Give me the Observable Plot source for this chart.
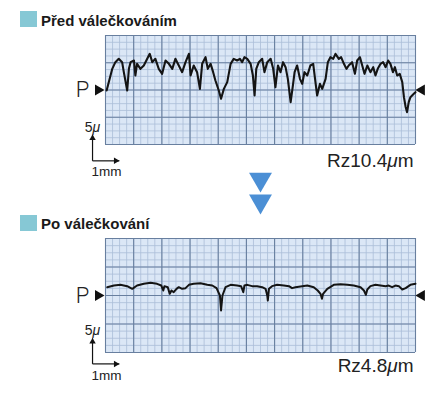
<!DOCTYPE html>
<html><head><meta charset="utf-8">
<script src="https://cdn.jsdelivr.net/npm/d3@7"></script>
<script src="https://cdn.jsdelivr.net/npm/@observablehq/plot@0.6"></script>
<style>
body{margin:0;background:#fff;}
#root{position:relative;width:426px;height:395px;overflow:hidden;font-family:"Liberation Sans",Arial,sans-serif;}
.title{position:absolute;left:41px;font-weight:bold;font-size:15px;line-height:15px;color:#1a1a1a;white-space:nowrap;}
.sq{position:absolute;left:20px;width:17px;height:16px;background:#86c8d5;}
.panel{position:absolute;left:0;}
</style></head><body><div id="root"></div>
<script>
// ---- text ----
const titles = ["Před válečkováním", "Po válečkování"];
const rzLabels = ["Rz10.4μm", "Rz4.8μm"];
const pLabel = "P";
const scaleLabels = ["5μ", "1mm"];

// ---- grid (mm horizontally, μm vertically) ----
const majorX = [0, 1, 2, 3, 4, 5, 6, 7, 8, 9, 10, 11];
const majorY = [-10, -5, 0, 5, 10];
const minorStepX = 0.25, minorStepY = 1.25;

// ---- profile before rolling (x mm, y μm) ----
const beforeX = [0.04,0.24,0.35,0.47,0.59,0.65,0.77,0.83,0.89,1.01,1.06,1.12,1.24,1.36,1.48,1.57,1.66,1.77,1.89,2.01,2.13,2.25,2.37,2.48,2.60,2.72,2.84,2.96,3.02,3.13,3.25,3.35,3.43,3.55,3.63,3.73,3.82,3.90,4.02,4.10,4.20,4.32,4.44,4.55,4.67,4.77,4.85,4.93,5.03,5.15,5.23,5.29,5.35,5.44,5.56,5.64,5.74,5.86,5.95,6.03,6.12,6.21,6.30,6.39,6.47,6.57,6.65,6.71,6.80,6.90,6.98,7.06,7.16,7.27,7.37,7.45,7.51,7.61,7.69,7.81,7.89,7.98,8.08,8.16,8.28,8.36,8.46,8.55,8.63,8.75,8.85,8.93,9.03,9.11,9.19,9.29,9.40,9.50,9.58,9.66,9.76,9.85,9.94,10.03,10.11,10.20,10.27,10.35,10.44,10.53,10.59,10.65,10.70,10.76,10.82,10.94,11.00];
const beforeY = [-0.09,3.88,5.11,5.72,5.11,3.27,-0.09,3.88,5.11,5.41,2.66,4.80,3.88,4.50,5.72,6.64,5.11,5.72,3.88,2.97,5.41,4.80,3.88,5.72,4.50,3.27,5.11,6.64,2.66,4.50,3.27,0.21,4.80,6.02,3.88,4.80,3.27,1.74,-0.09,-1.62,0.21,1.44,4.80,5.72,5.41,5.72,5.11,6.02,5.72,4.80,2.66,-1.01,3.88,5.11,5.72,3.27,5.11,5.72,3.88,0.52,4.50,3.27,5.11,4.19,2.05,-2.23,0.83,3.27,4.50,2.05,1.13,3.27,2.66,4.50,4.80,1.44,-1.01,1.13,0.21,2.05,5.11,6.02,5.72,6.64,5.72,6.02,4.80,3.88,4.50,5.11,2.97,5.41,6.02,4.50,2.97,4.50,3.27,4.19,2.66,3.88,4.80,5.11,4.19,5.41,4.80,3.27,4.19,2.66,2.97,1.44,-1.31,-3.12,-4.07,-2.23,-1.31,-0.70,-0.40];

// ---- profile after rolling (x mm, y μm) ----
const afterX = [0.06,0.30,0.53,0.77,0.95,1.12,1.36,1.60,1.83,1.98,2.05,2.09,2.21,2.28,2.34,2.42,2.52,2.60,2.72,2.84,2.96,3.13,3.37,3.61,3.79,3.94,4.06,4.10,4.15,4.26,4.44,4.67,4.81,4.89,4.93,5.03,5.20,5.38,5.56,5.68,5.74,5.76,5.80,5.91,6.09,6.33,6.51,6.62,6.74,6.92,7.16,7.39,7.53,7.63,7.68,7.72,7.87,8.10,8.34,8.58,8.81,9.05,9.17,9.24,9.29,9.40,9.58,9.76,9.94,10.05,10.17,10.29,10.41,10.53,10.65,10.82,11.00];
const afterY = [1.46,1.75,1.87,1.64,1.17,1.75,2.05,2.22,2.05,1.75,0.88,1.64,1.46,0.29,0.88,0.58,1.17,1.46,1.17,1.29,1.87,2.05,2.16,1.87,1.75,1.29,0.00,-2.63,0.00,1.46,1.87,1.75,1.64,0.58,1.75,1.87,1.64,1.64,1.46,1.17,0.00,-0.88,1.17,1.64,1.87,1.75,1.64,1.29,1.46,1.58,1.75,1.46,0.88,0.29,-0.58,0.29,1.17,1.87,1.99,1.87,1.75,1.46,0.88,0.12,1.05,1.64,1.87,1.75,1.64,1.75,1.46,1.75,1.64,1.05,1.29,1.87,2.05];

const root = document.getElementById("root");
const FONT = "'Liberation Sans', Arial, sans-serif";

function italicMu(svg) {
  svg.querySelectorAll("text").forEach(t => {
    const s = t.textContent;
    if (!s.includes("μ") || t.children.length) return;
    t.textContent = "";
    s.split(/(μ)/).forEach(part => {
      if (!part) return;
      const ts = document.createElementNS("http://www.w3.org/2000/svg", "tspan");
      ts.textContent = part;
      if (part === "μ") ts.setAttribute("font-style", "italic");
      t.appendChild(ts);
    });
  });
}

function panel(o) {
  const data = o.xs.map((x, i) => ({x, y: o.ys[i]}));
  const minorX = d3.range(0, 11.001, minorStepX);
  const minorY = d3.range(-10, 10.001, minorStepY);
  const sx = -0.46;
  const marks = [
    Plot.frame({fill: "#dbe7f6", stroke: null}),
    Plot.ruleX(minorX, {stroke: "#abbed8", strokeWidth: 0.8}),
    Plot.ruleY(minorY, {stroke: "#abbed8", strokeWidth: 0.8}),
    Plot.ruleX(majorX, {stroke: "#687f9f", strokeWidth: 1.1}),
    Plot.ruleY(majorY, {stroke: "#687f9f", strokeWidth: 1.1}),
    Plot.line(data, {x: "x", y: "y", stroke: "#141414", strokeWidth: o.lw, strokeLinejoin: "round"}),
    // reference line markers
    Plot.dot([{x: -0.26, y: 0}], {x: "x", y: "y", symbol: "triangle", rotate: 90, r: 4.1, fill: "#111", stroke: null}),
    Plot.dot([{x: 11.22, y: 0}], {x: "x", y: "y", symbol: "triangle", rotate: -90, r: 4.1, fill: "#111", stroke: null}),
    Plot.text([pLabel], {x: -1.06, y: 0, text: d => d, textAnchor: "start", lineAnchor: "middle", fontSize: 22, fontFamily: "Roboto, " + FONT, fontWeight: 300, fill: "#222"}),
    // scale bar
    Plot.link([{x1: sx, y1: o.sy0, x2: sx, y2: o.syTip}], {x1: "x1", y1: "y1", x2: "x2", y2: "y2", stroke: "#111", strokeWidth: 1.2}),
    Plot.link([{x1: sx, y1: o.sy0, x2: sx + 0.95, y2: o.sy0}], {x1: "x1", y1: "y1", x2: "x2", y2: "y2", stroke: "#111", strokeWidth: 1.2}),
    Plot.dot([{x: sx, y: o.syTip}], {x: "x", y: "y", symbol: "triangle", rotate: 0, r: 2.4, dy: 3.5, fill: "#111", stroke: null}),
    Plot.dot([{x: sx + 0.95, y: o.sy0}], {x: "x", y: "y", symbol: "triangle", rotate: 90, r: 2.4, dx: -3.5, fill: "#111", stroke: null}),
    Plot.text([scaleLabels[0]], {x: sx, y: o.syTip, text: d => d, textAnchor: "middle", lineAnchor: "bottom", dy: -3, fontSize: 14, fontFamily: FONT, fill: "#222"}),
    Plot.text([scaleLabels[1]], {x: sx, y: o.sy0, text: d => d, textAnchor: "start", lineAnchor: "bottom", dy: o.mmDy, dx: -1, fontSize: 13.5, fontFamily: FONT, fill: "#222"}),
    Plot.text([o.rz], {x: 10.93, y: o.rzY, text: d => d, textAnchor: "end", lineAnchor: "bottom", fontSize: 19, fontFamily: FONT, fill: "#222"})
  ];
  if (o.arrows) {
    marks.push(Plot.dot([{x: 5.5, y: -16.4}, {x: 5.5, y: -20.4}], {x: "x", y: "y", symbol: "triangle", rotate: 180, r: 8.5, fill: "#4b8fd5", stroke: null}));
  }
  const svg = Plot.plot({
    width: 426, height: o.height,
    marginLeft: 105, marginRight: 11, marginTop: o.mt, marginBottom: o.mb,
    x: {domain: [0, 11], axis: null},
    y: {domain: [-10, 10], axis: null},
    style: {background: "transparent", overflow: "visible", fontFamily: FONT},
    marks
  });
  italicMu(svg);
  svg.classList.add("panel");
  svg.style.position = "absolute";
  svg.style.top = o.top + "px";
  svg.style.left = "0px";
  return svg;
}

function title(text, top, sqTop) {
  const sq = document.createElement("div");
  sq.className = "sq"; sq.style.top = sqTop + "px";
  const t = document.createElement("div");
  t.className = "title"; t.style.top = top + "px"; t.textContent = text;
  root.appendChild(sq); root.appendChild(t);
}

root.appendChild(panel({xs: beforeX, ys: beforeY, rz: rzLabels[0], top: 0, height: 212, mt: 35, mb: 68, sy0: -13, syTip: -8.2, mmDy: 15, rzY: -14.2, arrows: true, lw: 2.1}));
root.appendChild(panel({xs: afterX, ys: afterY, rz: rzLabels[1], top: 212, height: 183, mt: 26, mb: 43, sy0: -12, syTip: -7.5, mmDy: 16, rzY: -13.5, arrows: false, lw: 2}));
title(titles[0], 13, 11);
title(titles[1], 216, 215);
</script>
</body></html>
